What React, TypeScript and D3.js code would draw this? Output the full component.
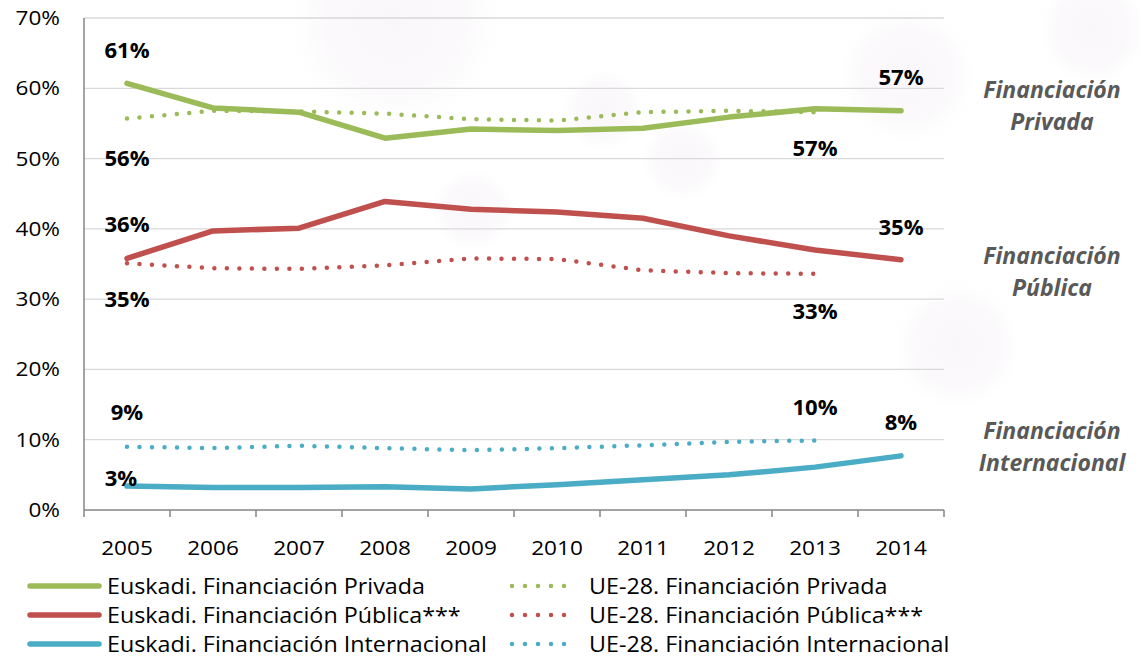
import React from "react";
import * as d3 from "d3";

const width = 1140;
const height = 662;

const years = ["2005", "2006", "2007", "2008", "2009", "2010", "2011", "2012", "2013", "2014"];
const yTicks = [0, 10, 20, 30, 40, 50, 60, 70];

const euskadiPrivada = [60.7, 57.2, 56.6, 52.9, 54.2, 54.0, 54.3, 55.9, 57.1, 56.8];
const ue28Privada = [55.7, 56.8, 56.7, 56.4, 55.6, 55.4, 56.6, 56.8, 56.6];
const euskadiPublica = [35.8, 39.7, 40.1, 43.9, 42.8, 42.4, 41.5, 39.0, 37.0, 35.6];
const ue28Publica = [35.1, 34.4, 34.3, 34.8, 35.8, 35.7, 34.1, 33.7, 33.6];
const euskadiInternacional = [3.4, 3.2, 3.2, 3.3, 3.0, 3.6, 4.3, 5.0, 6.1, 7.7];
const ue28Internacional = [9.0, 8.8, 9.15, 8.8, 8.5, 8.8, 9.2, 9.7, 9.9];

const green = "#9BBB59";
const red = "#C0504D";
const blue = "#4BACC6";

const series = [
  { name: "Euskadi. Financiación Privada", values: euskadiPrivada, color: green, dotted: false },
  { name: "Euskadi. Financiación Pública***", values: euskadiPublica, color: red, dotted: false },
  { name: "Euskadi. Financiación Internacional", values: euskadiInternacional, color: blue, dotted: false },
  { name: "UE-28. Financiación Privada", values: ue28Privada, color: green, dotted: true },
  { name: "UE-28. Financiación Pública***", values: ue28Publica, color: red, dotted: true },
  { name: "UE-28. Financiación Internacional", values: ue28Internacional, color: blue, dotted: true },
];

// value labels next to first / last points
const valueLabels = [
  { year: "2005", text: "61%", v: 60.7, dy: -33 },
  { year: "2005", text: "56%", v: 55.7, dy: 40 },
  { year: "2014", text: "57%", v: 56.8, dy: -33 },
  { year: "2013", text: "57%", v: 56.6, dy: 36 },
  { year: "2005", text: "36%", v: 35.8, dy: -34 },
  { year: "2005", text: "35%", v: 35.1, dy: 36 },
  { year: "2014", text: "35%", v: 35.6, dy: -32 },
  { year: "2013", text: "33%", v: 33.6, dy: 38 },
  { year: "2005", text: "9%", v: 9.0, dy: -34 },
  { year: "2005", text: "3%", v: 3.4, dy: -7, dx: -6 },
  { year: "2013", text: "10%", v: 9.9, dy: -33 },
  { year: "2014", text: "8%", v: 7.7, dy: -33 },
];

const sideLabels = [
  { lines: ["Financiación", "Privada"], v: 57 },
  { lines: ["Financiación", "Pública"], v: 33.5 },
  { lines: ["Financiación", "Internacional"], v: 8.5 },
];

// faint background blobs: [x, y, r]
const blobs = [
  [395, 20, 115],
  [603, 110, 45],
  [683, 160, 45],
  [473, 210, 45],
  [907, 75, 75],
  [1093, 30, 60],
  [957, 345, 70],
];

const left = 84;
const right = 944;
const top = 18;
const bottom = 510;

const font = "'Open Sans', sans-serif";

function T({ x, y, anchor = "start", sx = 1.13, size = 20, children, ...rest }: any) {
  return (
    <text
      transform={`translate(${x},${y}) scale(${sx},1)`}
      textAnchor={anchor}
      dy="0.35em"
      fontSize={size}
      {...rest}
    >
      {children}
    </text>
  );
}

export default function App() {
  const x = d3.scaleBand().domain(years).range([left, right]);
  const y = d3.scaleLinear().domain([0, 70]).range([bottom, top]);
  const cx = (yr: string) => (x(yr) as number) + x.bandwidth() / 2;

  const line = d3
    .line<number>()
    .x((_, i) => cx(years[i]))
    .y((d) => y(d));

  return (
    <svg
      width={width}
      height={height}
      style={{ position: "absolute", left: 0, top: 0, background: "#fff" }}
      fontFamily={font}
    >
      <defs>
        <radialGradient id="blob">
          <stop offset="0%" stopColor="#faf7fa" />
          <stop offset="60%" stopColor="#fbf9fb" />
          <stop offset="100%" stopColor="#ffffff" stopOpacity={0} />
        </radialGradient>
      </defs>
      {blobs.map((b, i) => (
        <circle key={i} cx={b[0]} cy={b[1]} r={b[2]} fill="url(#blob)" />
      ))}
      {yTicks.map((t) => (
        <g key={t}>
          {t > 0 && (
            <line x1={left} x2={right} y1={y(t)} y2={y(t)} stroke="#d9d9d9" strokeWidth={1.3} />
          )}
          <T x={60} y={y(t)} anchor="end" fill="#000">
            {t}%
          </T>
        </g>
      ))}
      <line x1={left} x2={left} y1={top} y2={bottom} stroke="#868686" strokeWidth={1.5} />
      <line x1={left} x2={right} y1={bottom} y2={bottom} stroke="#868686" strokeWidth={1.5} />
      {[...years.map((yr) => x(yr) as number), right].map((px, i) => (
        <line key={i} x1={px} x2={px} y1={bottom} y2={bottom + 7} stroke="#868686" strokeWidth={1.5} />
      ))}
      {years.map((yr) => (
        <T key={yr} x={cx(yr)} y={548} anchor="middle" fill="#000">
          {yr}
        </T>
      ))}

      {series.map((s) => (
        <path
          key={s.name}
          d={line(s.values) || ""}
          fill="none"
          stroke={s.color}
          strokeWidth={s.dotted ? 4.5 : 5.5}
          strokeLinecap="round"
          strokeLinejoin="round"
          strokeDasharray={s.dotted ? "0 12.5" : undefined}
        />
      ))}

      {valueLabels.map((l, i) => (
        <T
          key={i}
          x={cx(l.year) + (l.dx || 0)}
          y={y(l.v) + l.dy}
          anchor="middle"
          size={21}
          sx={1.05}
          fontWeight="bold"
          fill="#000"
        >
          {l.text}
        </T>
      ))}

      {sideLabels.map((s, i) => (
        <T
          key={i}
          x={1052}
          y={y(s.v) - 19}
          anchor="middle"
          size={23}
          sx={1}
          fontWeight="bold"
          fontStyle="italic"
          fill="#595959"
        >
          {s.lines.map((ln, j) => (
            <tspan key={j} x={0} dy={j === 0 ? "0.35em" : 32}>
              {ln}
            </tspan>
          ))}
        </T>
      ))}

      {series.map((s, i) => {
        const col = s.dotted ? 1 : 0;
        const row = i % 3;
        const ly = 586 + row * 29;
        const lx0 = col === 0 ? 30 : 512;
        const lx1 = col === 0 ? 99 : 577;
        return (
          <g key={s.name}>
            <line
              x1={lx0}
              x2={lx1}
              y1={ly}
              y2={ly}
              stroke={s.color}
              strokeWidth={s.dotted ? 4.5 : 5.5}
              strokeLinecap="round"
              strokeDasharray={s.dotted ? "0 13" : undefined}
            />
            <T x={col === 0 ? 107 : 589} y={ly} size={22} sx={1.06} fill="#000">
              {s.name}
            </T>
          </g>
        );
      })}
    </svg>
  );
}
